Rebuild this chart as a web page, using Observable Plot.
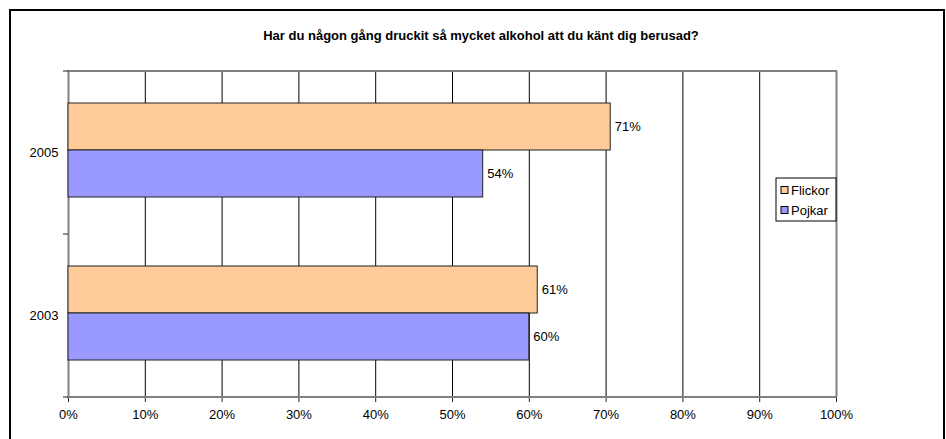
<!DOCTYPE html>
<html>
<head>
<meta charset="utf-8">
<script src="https://cdn.jsdelivr.net/npm/d3@7"></script>
<script src="https://cdn.jsdelivr.net/npm/@observablehq/plot@0.6"></script>
<style>
  body { margin: 0; background: #fff; }
  svg { display: block; }
</style>
</head>
<body>
<div id="chart"></div>
<script>
const title = "Har du någon gång druckit så mycket alkohol att du känt dig berusad?";
const years = ["2005", "2003"];
const genders = ["Flickor", "Pojkar"];
const flickorValues = [70.6, 61.1];
const pojkarValues = [54.0, 60.0];
const flickorLabels = ["71%", "61%"];
const pojkarLabels = ["54%", "60%"];
const xTicks = [0, 10, 20, 30, 40, 50, 60, 70, 80, 90, 100];
const xTickLabels = ["0%", "10%", "20%", "30%", "40%", "50%", "60%", "70%", "80%", "90%", "100%"];
const colors = ["#FFCC99", "#9999FF"];

(function () {
const data = years.flatMap((year, i) => [
  {year, gender: genders[0], value: flickorValues[i], label: flickorLabels[i]},
  {year, gender: genders[1], value: pojkarValues[i], label: pojkarLabels[i]}
]);

const font = "'Liberation Sans', Arial, sans-serif";

const plot = Plot.plot({
  width: 946,
  height: 439,
  marginLeft: 68,
  marginRight: 110,
  marginTop: 70,
  marginBottom: 42,
  style: {fontFamily: font, fontSize: "13px", color: "#000", background: "#fff"},
  x: {domain: [0, 100], label: null},
  y: {domain: genders, paddingInner: 0, paddingOuter: 0.72, align: 0.46, axis: null, label: null},
  fy: {domain: years, padding: 0, label: null},
  color: {domain: genders, range: colors},
  marks: [
    Plot.gridX(xTicks.slice(1, -1), {stroke: "#000", strokeOpacity: 1, strokeWidth: 1}),
    Plot.ruleX([xTicks[0], xTicks[xTicks.length - 1]], {stroke: "#808080", strokeWidth: 2}),
    Plot.barX(data, {fy: "year", y: "gender", x: "value", fill: "gender", stroke: "#222", strokeWidth: 1}),
    Plot.text(data, {fy: "year", y: "gender", x: "value", text: "label", textAnchor: "start", dx: 4, fill: "#000", fontSize: 13}),
    Plot.axisX({anchor: "bottom", ticks: xTicks, tickFormat: d => xTickLabels[xTicks.indexOf(d)], tickSize: 5, tickPadding: 7, label: null, stroke: "#222", fontSize: 13}),
    Plot.axisFy({anchor: "left", tickSize: 0, tickPadding: 10, label: null, fontSize: 13})
  ]
});

document.getElementById("chart").appendChild(plot);

const svg = d3.select(plot);
const xs = plot.scale("x");
const fys = plot.scale("fy");
const x0 = xs.apply(xTicks[0]);
const x1 = xs.apply(xTicks[xTicks.length - 1]);
const bounds = years.map(y => fys.apply(y));
bounds.push(fys.apply(years[years.length - 1]) + fys.bandwidth);
const yTop = bounds[0], yBottom = bounds[bounds.length - 1];

// plot area border (top & bottom)
[yTop, yBottom].forEach(yv => {
  svg.append("line").attr("x1", x0 - 1).attr("x2", x1 + 1).attr("y1", yv).attr("y2", yv)
    .attr("stroke", "#808080").attr("stroke-width", 2);
});
// category boundary ticks
bounds.forEach(yv => {
  svg.append("line").attr("x1", x0 - 5).attr("x2", x0).attr("y1", yv).attr("y2", yv)
    .attr("stroke", "#222").attr("stroke-width", 1);
});

// outer chart border
svg.append("rect").attr("x", 10).attr("y", 10).attr("width", 934).attr("height", 460)
  .attr("fill", "none").attr("stroke", "#000").attr("stroke-width", 2);

// title
svg.append("text").attr("x", 481).attr("y", 40).attr("text-anchor", "middle")
  .attr("font-family", font).attr("font-size", 13).attr("font-weight", "bold")
  .attr("fill", "#000").text(title);

// legend
const lg = svg.append("g").attr("transform", `translate(${x1 - 60},178)`);
lg.append("rect").attr("x", 0).attr("y", 0).attr("width", 60).attr("height", 43)
  .attr("fill", "#fff").attr("stroke", "#000").attr("stroke-width", 1);
genders.forEach((g, i) => {
  const cy = 12 + i * 20;
  lg.append("rect").attr("x", 5).attr("y", cy - 3.5).attr("width", 7).attr("height", 7)
    .attr("fill", colors[i]).attr("stroke", "#000").attr("stroke-width", 1);
  lg.append("text").attr("x", 15).attr("y", cy).attr("dy", "0.36em")
    .attr("text-anchor", "start")
    .attr("font-family", font).attr("font-size", 13).attr("fill", "#000").text(g);
});
})();
</script>
</body>
</html>
